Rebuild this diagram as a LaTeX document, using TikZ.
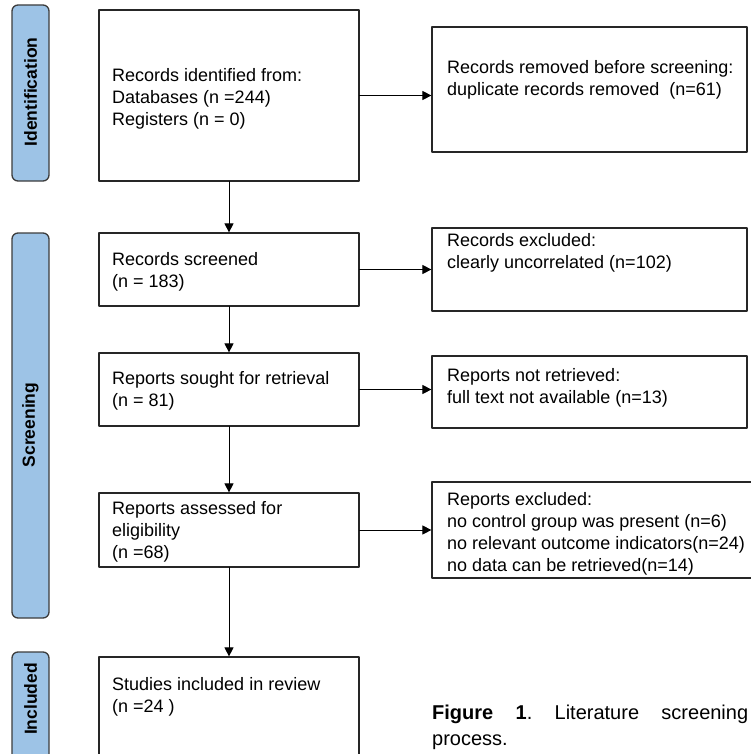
\documentclass[tikz,border=0pt]{standalone}
\usepackage{fontspec}
\setmainfont{Liberation Sans}
\usetikzlibrary{arrows.meta,positioning}
\definecolor{barblue}{RGB}{157,195,230}
\definecolor{bardraw}{RGB}{60,60,60}
\begin{document}
\begin{tikzpicture}[line cap=round,line join=round,>={Triangle[length=9pt,width=9pt]},x=1pt,y=-1pt,
  stagebar/.style={draw=bardraw,line width=1.3pt,fill=barblue,rounded corners=6pt,minimum width=37pt,inner sep=0pt},
  stagetext/.style={rotate=90,inner sep=0pt,font=\fontsize{17.5}{20}\selectfont\bfseries},
  flowbox/.style={draw=black!85,line width=1.2pt,inner sep=0pt},
  boxtext/.style={anchor=north west,align=left,inner sep=0pt,font=\fontsize{18}{22}\selectfont},
  flow/.style={->,line width=0.9pt}]
\useasboundingbox (0,0) rectangle (751,754);
\node[stagebar,minimum height=176pt] (idbar) at (30.5,93) {};
\node[stagebar,minimum height=385pt] (scbar) at (30.5,425.5) {};
\node[stagebar,minimum height=118pt] (inbar) at (30.5,711) {};
\node[stagetext] (idlabel) at (30.5,92) {Identification};
\node[stagetext] (sclabel) at (30.5,425) {Screening};
\node[stagetext] (inlabel) at (30.5,699) {Included};
\node[flowbox,minimum width=260pt,minimum height=171pt] (rid) at (229,95.5) {};
\node[flowbox,minimum width=260pt,minimum height=73pt] (rscr) at (229,269.5) {};
\node[flowbox,minimum width=260pt,minimum height=73pt] (rsought) at (229,389.5) {};
\node[flowbox,minimum width=260pt,minimum height=74pt] (rassess) at (229,530) {};
\node[flowbox,minimum width=260pt,minimum height=113pt] (sincl) at (229,713.5) {};
\node[flowbox,minimum width=315pt,minimum height=125pt] (rremoved) at (589.5,89.5) {};
\node[flowbox,minimum width=315pt,minimum height=83pt] (rexcl) at (589.5,269.5) {};
\node[flowbox,minimum width=315pt,minimum height=72pt] (rnotret) at (589.5,392) {};
\node[flowbox,minimum width=320pt,minimum height=96pt] (repexcl) at (592,530) {};
\node[boxtext] (ridtext) at (112,68.5) {Records identified from:\\Databases (n =244)\\Registers (n = 0)};
\node[boxtext] (rscrtext) at (112,252.5) {Records screened\\(n = 183)};
\node[boxtext] (rsoughttext) at (112,371.5) {Reports sought for retrieval\\(n = 81)};
\node[boxtext] (rassesstext) at (112,501.5) {Reports assessed for\\eligibility\\(n =68)};
\node[boxtext] (sincltext) at (112,677.5) {Studies included in review\\(n =24 )};
\node[boxtext] (rremovedtext) at (447,60.5) {Records removed before screening:\\duplicate records removed~ (n=61)};
\node[boxtext] (rexcltext) at (447,233.5) {Records excluded:\\clearly uncorrelated (n=102)};
\node[boxtext] (rnotrettext) at (447,368.5) {Reports not retrieved:\\full text not available (n=13)};
\node[boxtext] (repexcltext) at (447,492.5) {Reports excluded:\\no control group was present (n=6)\\no relevant outcome indicators(n=24)\\no data can be retrieved(n=14)};
\draw[flow] (rid) -- (rscr);
\draw[flow] (rscr) -- (rsought);
\draw[flow] (rsought) -- (rassess);
\draw[flow] (rassess) -- (sincl);
\draw[flow] (rid) -- (rid -| rremoved.west);
\draw[flow] (rscr) -- (rscr -| rexcl.west);
\draw[flow] (rsought) -- (rsought -| rnotret.west);
\draw[flow] (rassess) -- (rassess -| repexcl.west);
\node[anchor=north west,text width=316pt,align=justify,inner sep=0pt,font=\fontsize{20}{26}\selectfont\frenchspacing] (caption) at (432,705) {\textbf{Figure 1}. Literature screening \mbox{process.}};
\end{tikzpicture}
\end{document}
